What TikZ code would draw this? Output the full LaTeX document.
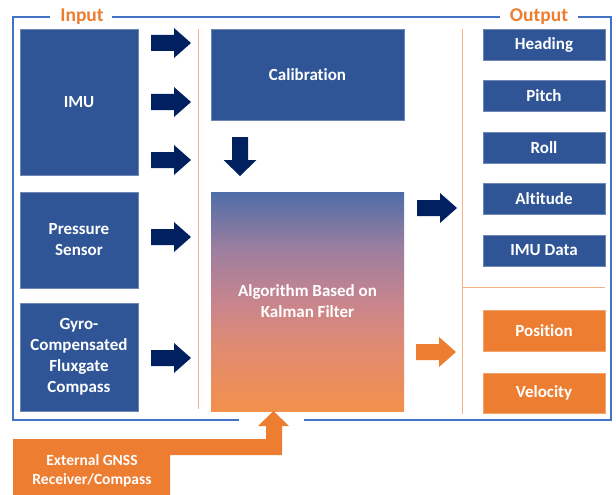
\documentclass[tikz,border=0pt]{standalone}
\usepackage{fontspec}
\setmainfont{Carlito}[Ligatures={NoCommon}]
\definecolor{boxblue}{HTML}{2F5597}
\definecolor{navy}{HTML}{002060}
\definecolor{orng}{HTML}{ED7D31}
\definecolor{framebl}{HTML}{4472C4}
\definecolor{sepor}{HTML}{F4B183}
\definecolor{gtop}{HTML}{4F6DA8}
\definecolor{gupp}{HTML}{9A7E9F}
\definecolor{gmid}{HTML}{C8858E}
\definecolor{glow}{HTML}{E48C6C}
\definecolor{gbot}{HTML}{F2904C}
\pgfdeclareverticalshading{kalman}{100bp}{color(0bp)=(gbot); color(25bp)=(gbot); color(37.5bp)=(glow);
  color(50bp)=(gmid); color(62.5bp)=(gupp); color(75bp)=(gtop); color(100bp)=(gtop)}
\tikzset{
  bluebox/.style={fill=boxblue, draw=boxblue!70!white, line width=0.4pt, text=white, align=center, inner sep=2pt},
  orbox/.style={fill=orng, draw=orng!70!white, line width=0.4pt, text=white, align=center, inner sep=2pt},
  outbox/.style={bluebox, minimum width=122, minimum height=31},
  title/.style={text=orng, font=\fontsize{19.5}{21}\selectfont\bfseries, fill=white, inner sep=0pt},
  rblock/.pic={\fill[pic actions] (0,-8) -- (23,-8) -- (23,-15) -- (40,0) -- (23,15) -- (23,8) -- (0,8) -- cycle;},
  dblock/.pic={\fill[pic actions] (-8,0) -- (-8,23) -- (-16.5,23) -- (0,39) -- (16.5,23) -- (8,23) -- (8,0) -- cycle;}
}
\begin{document}
\begin{tikzpicture}[x=1pt, y=-1pt, font=\fontsize{17}{21}\selectfont\bfseries]
  \useasboundingbox (0,0) rectangle (616,495);
  % frame with gaps for the titles and the GNSS arrow
  \draw[framebl, line width=1.1pt] (50,17) -- (13,17) -- (13,420) -- (239,420)
    (304,420) -- (611,420) -- (611,17) -- (578,17) (500,17) -- (112,17);
  \node[title] (inp) at (82,17) {Input};
  \node[title] (outp) at (539,17) {Output};
  % separators
  \draw[sepor, line width=0.8pt] (198,29) -- (198,409) (462,29) -- (462,414) (462,287) -- (605,287);
  % inputs
  \node[bluebox, minimum width=118, minimum height=146] (imu) at (79,102) {IMU};
  \node[bluebox, minimum width=118, minimum height=96] (press) at (79,240) {Pressure\\Sensor};
  \node[bluebox, minimum width=118, minimum height=108] (gyro) at (79,357) {Gyro-\\Compensated\\Fluxgate\\Compass};
  % processing
  \node[bluebox, minimum width=193, minimum height=91] (calib) at (307.5,74.5) {Calibration};
  \node[minimum width=193, minimum height=219, shading=kalman, text=white, align=center]
    (algo) at (307.5,301.5) {Algorithm Based on\\Kalman Filter};
  % outputs
  \node[outbox] (head) at (544,44.5) {Heading};
  \node[outbox] (pitch) at (544,96) {Pitch};
  \node[outbox] (roll) at (544,148) {Roll};
  \node[outbox] (alt) at (544,199) {Altitude};
  \node[outbox] (imud) at (544,250.5) {IMU Data};
  \node[orbox, minimum width=122, minimum height=41] (pos) at (544,330.5) {Position};
  \node[orbox, minimum width=122, minimum height=40] (vel) at (544,393) {Velocity};
  % block arrows
  \foreach \y in {43,102,160,237,358} \pic[fill=navy] at (151,\y) {rblock};
  \pic[fill=navy] at (240,137) {dblock};
  \pic[fill=navy] at (417,208) {rblock};
  \pic[fill=orng] at (416,352) {rblock};
  % external GNSS with bent arrow into the filter
  \fill[orng] (13,495) -- (13,439) -- (266,439) -- (266,426) -- (258,426) -- (273.5,411)
    -- (289,426) -- (282,426) -- (282,455) -- (170,455) -- (170,495) -- cycle;
  \node[text=white, align=center, font=\fontsize{15.5}{19}\selectfont\bfseries] (gnss) at (92,471) {External GNSS\\Receiver/Compass};
\end{tikzpicture}
\end{document}
